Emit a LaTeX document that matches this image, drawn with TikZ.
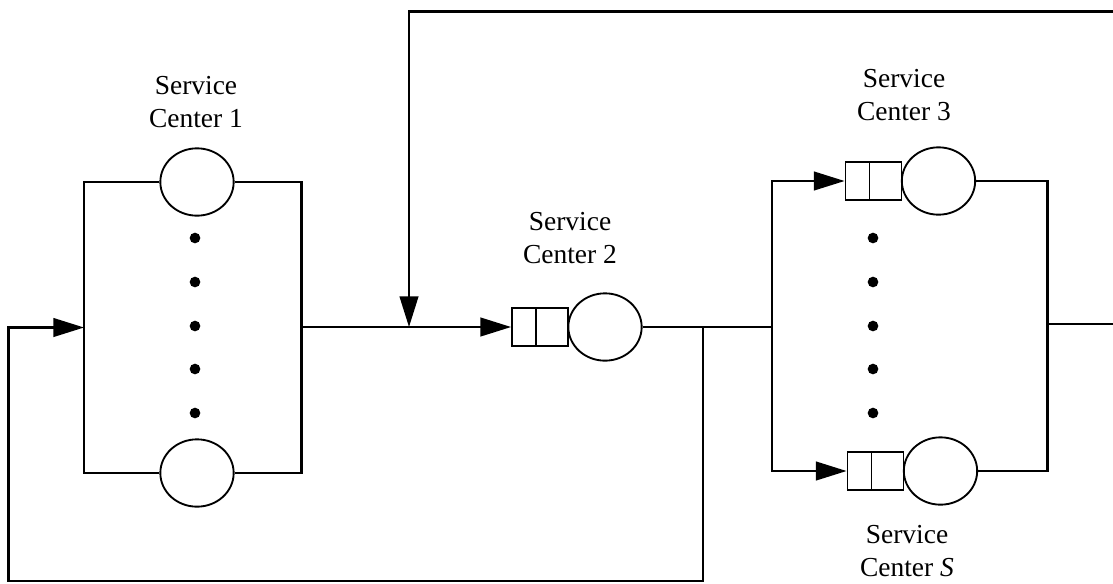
\documentclass[tikz,border=0pt]{standalone}
\usepackage{fontspec}
\setmainfont{Liberation Serif}
\usetikzlibrary{arrows.meta,shapes.geometric}

\tikzset{every picture/.style={line width=1.6pt}}
\tikzset{
  server/.style={draw, ellipse, minimum width=55pt, minimum height=50.5pt, inner sep=0pt, line width=1.4pt},
  buffer/.style={draw, rectangle, minimum width=42pt, minimum height=29pt, inner sep=0pt, line width=1.4pt,
    path picture={\draw[line width=1.4pt] ([xshift=18pt]path picture bounding box.north west) -- ([xshift=18pt]path picture bounding box.south west);}},
  flow/.style={-{Triangle[length=23pt,width=14pt]}},
  seqdot/.style={fill, circle, minimum size=8pt, inner sep=0pt},
  tag/.style={align=center, font=\fontsize{20.6}{24.6}\selectfont}
}

\begin{document}
\begin{tikzpicture}[x=0.75pt,y=0.75pt,yscale=-1,xscale=1]
    \useasboundingbox (0,0) rectangle (1113,583);
    %Shapes: servers and queues
    \node[server] (sc1a) at (197,182) {};
    \node[server] (sc1b) at (197,473) {};
    \node[buffer] (q2) at (540,327) {};
    \node[server] (sc2) at (605,327) {};
    \node[buffer] (q3) at (873.5,181) {};
    \node[server] (sc3) at (938.5,181) {};
    \node[buffer] (qs) at (875.5,471) {};
    \node[server] (scs) at (940.5,471) {};
    %Dots
    \foreach \y [count=\i] in {238,282,326,369,413} {
      \node[seqdot] (ldot\i) at (195,\y) {};
      \node[seqdot] (rdot\i) at (873,\y) {};
    }
    %Labels
    \node[tag] (lab1) at (196,102) {Service\\Center 1};
    \node[tag] (lab2) at (570,238) {Service\\Center 2};
    \node[tag] (lab3) at (904,95) {Service\\Center 3};
    \node[tag] (labs) at (907,551) {Service\\Center \textit{S}};
    %Corner points
    \coordinate (b1nw) at (84,182);
    \coordinate (b1sw) at (84,473);
    \coordinate (b1ne) at (301.5,182);
    \coordinate (b1se) at (301.5,473);
    \coordinate (b1in) at (84,327.5);
    \coordinate (b1out) at (301.5,327);
    \coordinate (fbright) at (1113,11.5);
    \coordinate (fbtop) at (409,11.5);
    \coordinate (fbin) at (409,327);
    \coordinate (split) at (703,327);
    \coordinate (join3) at (772,327);
    \coordinate (b3nw) at (772,181);
    \coordinate (b3sw) at (772,471);
    \coordinate (b3ne) at (1047.5,181);
    \coordinate (b3se) at (1047.5,471);
    \coordinate (b3out) at (1047.5,324);
    \coordinate (exit) at (1113,324);
    \coordinate (retbot) at (703,581);
    \coordinate (retleft) at (8.5,581);
    \coordinate (retup) at (8.5,327.5);
    %Straight Lines
    \draw (sc1a.west) -- (b1nw) -- (b1sw) -- (sc1b.west);
    \draw (sc1a.east) -- (b1ne) -- (b1se) -- (sc1b.east);
    \draw[flow] (b1out) -- (q2.west);
    \draw[flow] (fbright) -- (fbtop) -- (fbin);
    \draw (sc2.east) -- (join3);
    \draw[flow] (join3) -- (b3nw) -- (q3.west);
    \draw[flow] (join3) -- (b3sw) -- (qs.west);
    \draw (sc3.east) -- (b3ne) -- (b3se) -- (scs.east);
    \draw (b3out) -- (exit);
    \draw[flow] (split) -- (retbot) -- (retleft) -- (retup) -- (b1in);
\end{tikzpicture}
\end{document}
